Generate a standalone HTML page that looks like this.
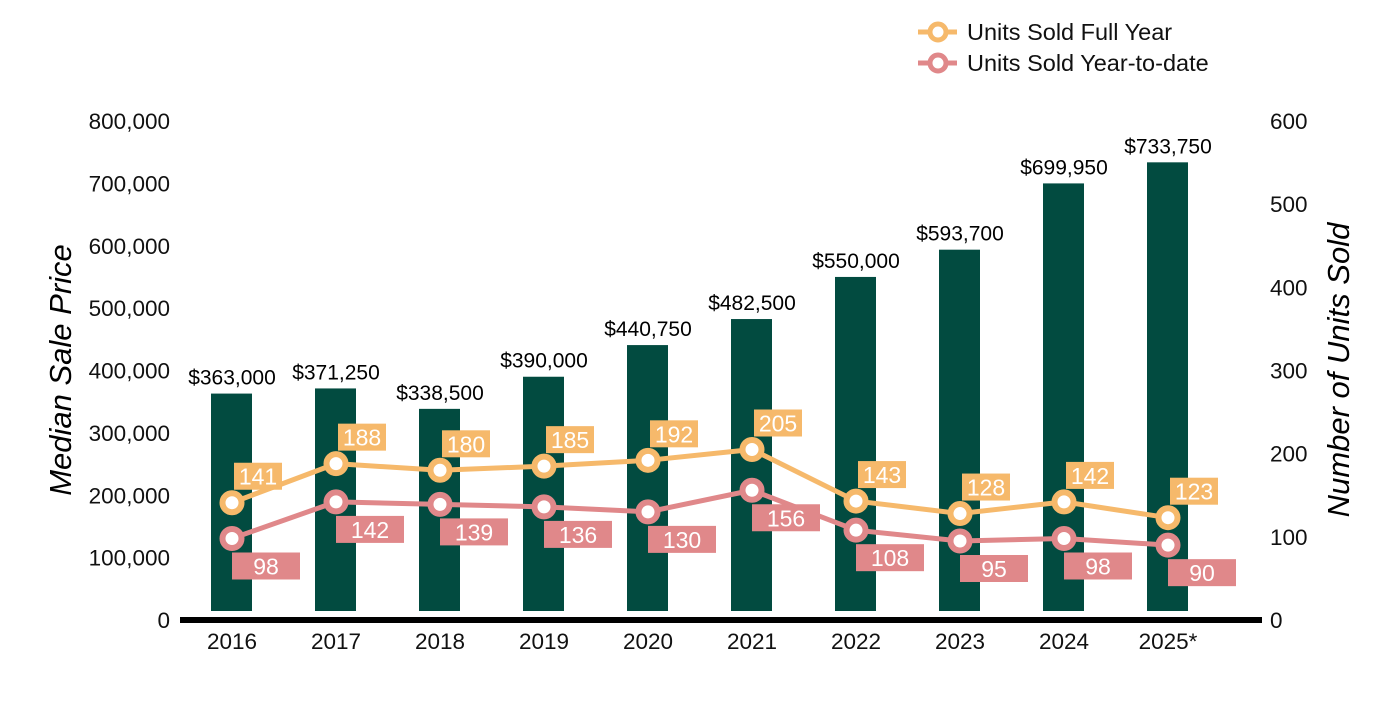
<!DOCTYPE html>
<html><head><meta charset="utf-8"><style>
body{margin:0;background:#fff;}
svg text{font-family:"Liberation Sans",Arial,sans-serif;}
</style></head><body>
<svg id="chart" width="1400" height="700" xmlns="http://www.w3.org/2000/svg">
<g id="g"></g>
</svg>
<script>
const years=["2016","2017","2018","2019","2020","2021","2022","2023","2024","2025*"];
const prices=[363000,371250,338500,390000,440750,482500,550000,593700,699950,733750];
const priceLabels=["$363,000","$371,250","$338,500","$390,000","$440,750","$482,500","$550,000","$593,700","$699,950","$733,750"];
const fullYear=[141,188,180,185,192,205,143,128,142,123];
const ytd=[98,142,139,136,130,156,108,95,98,90];
const leftTicks=[0,100000,200000,300000,400000,500000,600000,700000,800000];
const rightTicks=[0,100,200,300,400,500,600];

const NS="http://www.w3.org/2000/svg";
const g=document.getElementById('g');
const y0=620,yTop=121;
const yL=v=>y0-(v/800000)*(y0-yTop);
const yR=v=>y0-(v/600)*(y0-yTop);
const xC=i=>232+i*104;
function el(tag,attrs,text){const e=document.createElementNS(NS,tag);for(const k in attrs)e.setAttribute(k,attrs[k]);if(text!==undefined)e.textContent=text;g.appendChild(e);return e;}
const fmt=v=>v.toLocaleString('en-US');

leftTicks.forEach(t=>{const e=el('text',{x:170,y:yL(t)+8,'text-anchor':'end','font-size':22.5,fill:'#111'},fmt(t));

});
rightTicks.forEach(t=>{const e=el('text',{x:1270,y:yR(t)+8,'text-anchor':'start','font-size':22.5,fill:'#111'},String(t));

});

prices.forEach((p,i)=>{
 const b=el('rect',{x:xC(i)-21,y:yL(p),width:41,height:611-yL(p),fill:'#024b40'});
 
 
 const t=el('text',{x:xC(i),y:yL(p)-9,'text-anchor':'middle','font-size':21,fill:'#000'},priceLabels[i]);
 
 
});

const ax=el('rect',{x:180,y:617,width:1082,height:6,fill:'#000'});


years.forEach((yv,i)=>{const t=el('text',{x:xC(i),y:649,'text-anchor':'middle','font-size':22.5,fill:'#111'},yv);

});

function series(vals,color,name,above){
 const pts=vals.map((v,i)=>xC(i)+','+yR(v)).join(' ');
 const l=el('polyline',{points:pts,fill:'none',stroke:color,'stroke-width':5,'stroke-linejoin':'round'});
 
 
 vals.forEach((v,i)=>{
  const c=el('circle',{cx:xC(i),cy:yR(v),r:9.5,fill:'#fff',stroke:color,'stroke-width':6});
  
  
  const w=above?48:68, bx=above?xC(i)+2:xC(i), by=above?yR(v)-40:yR(v)+14;
  const r=el('rect',{x:bx,y:by,width:w,height:27,fill:color});
  
  
  const t=el('text',{x:bx+w/2,y:by+22,'text-anchor':'middle','font-size':23,fill:'#fff'},String(v));
  
  
 });
}
series(fullYear,'#f6b96b','full-year',true);
series(ytd,'#e0888a','ytd',false);

const lt=el('text',{x:0,y:0,transform:'translate(71,370) rotate(-90)','text-anchor':'middle','font-size':31,'font-style':'italic',fill:'#000'},'Median Sale Price');


const rt=el('text',{x:0,y:0,transform:'translate(1349,370) rotate(-90)','text-anchor':'middle','font-size':31,'font-style':'italic',fill:'#000'},'Number of Units Sold');



[['Units Sold Full Year','#f6b96b',32],['Units Sold Year-to-date','#e0888a',63]].forEach(([lab,col,yy])=>{
 const ln=el('line',{x1:918,x2:957,y1:yy,y2:yy,stroke:col,'stroke-width':5});
 
 
 const c=el('circle',{cx:938,cy:yy,r:8,fill:'#fff',stroke:col,'stroke-width':5});
 
 
 const t=el('text',{x:967,y:yy+8,'font-size':23.5,fill:'#111'},lab);
 
 
});
</script>
</body></html>
